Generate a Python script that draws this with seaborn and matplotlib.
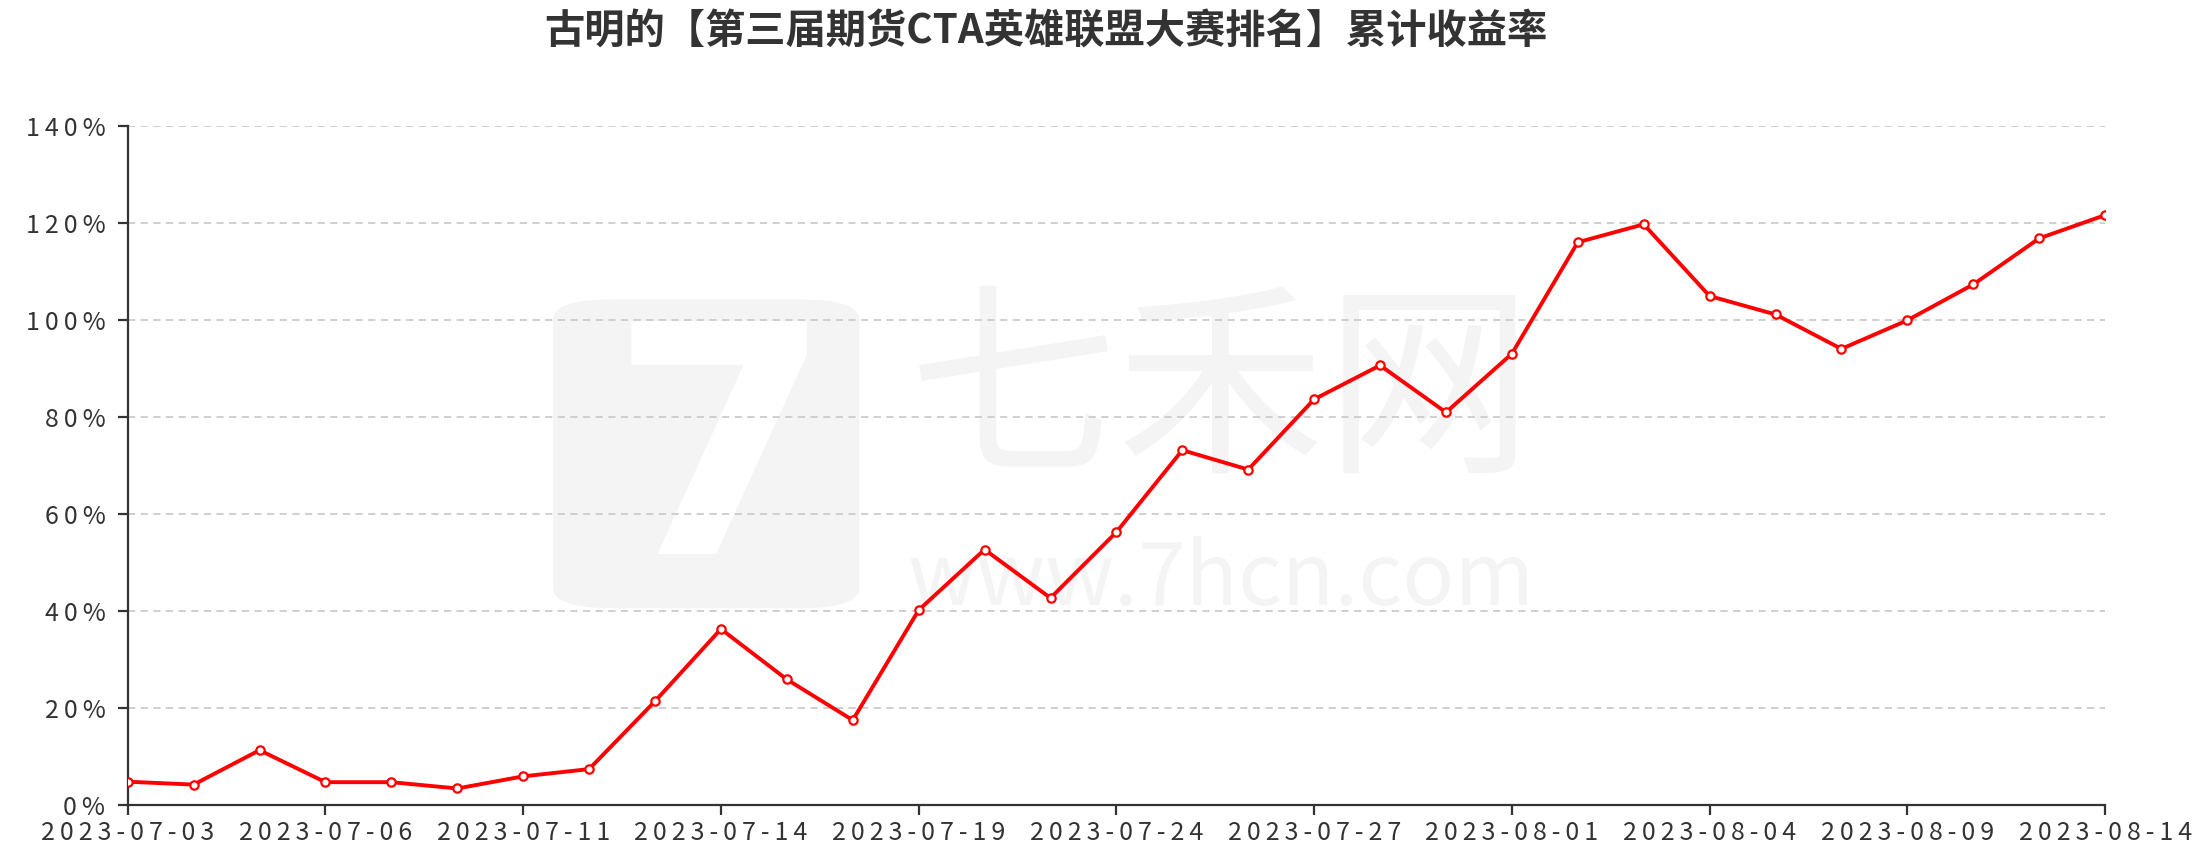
import matplotlib
matplotlib.use("Agg")
import matplotlib.pyplot as plt
from matplotlib.patches import FancyBboxPatch
import pandas as pd
import seaborn as sns

# trading days and cumulative return (%)
dates = ["2023-07-03", "2023-07-04", "2023-07-05", "2023-07-06", "2023-07-07",
         "2023-07-10", "2023-07-11", "2023-07-12", "2023-07-13", "2023-07-14",
         "2023-07-17", "2023-07-18", "2023-07-19", "2023-07-20", "2023-07-21",
         "2023-07-24", "2023-07-25", "2023-07-26", "2023-07-27", "2023-07-28",
         "2023-07-31", "2023-08-01", "2023-08-02", "2023-08-03", "2023-08-04",
         "2023-08-07", "2023-08-08", "2023-08-09", "2023-08-10", "2023-08-11",
         "2023-08-14"]
returns = [4.8, 4.2, 11.3, 4.7, 4.7, 3.4, 5.9, 7.4, 21.4, 36.3,
           25.9, 17.5, 40.2, 52.7, 42.7, 56.3, 73.2, 69.2, 83.7, 90.7,
           81.0, 93.1, 116.1, 119.8, 105.0, 101.2, 94.1, 100.0, 107.4, 116.9,
           121.7]
y_ticks = [0, 20, 40, 60, 80, 100, 120, 140]
title = "古明的【第三届期货CTA英雄联盟大赛排名】累计收益率"

THIN = "\u2009"


def spaced(s):
    return THIN.join(s)


df = pd.DataFrame({"pos": range(len(dates)), "date": dates, "ret": returns})

sns.set_theme(style="white")
plt.rcParams["font.family"] = ["Noto Sans CJK SC", "DejaVu Sans"]

fig = plt.figure(figsize=(22.02, 8.6), dpi=100)
ax = fig.add_axes([0.058, 0.064, 0.898, 0.789])
ax.set_facecolor("none")

# watermark
wm = "#f4f4f4"
ax.add_patch(FancyBboxPatch((0.215, 0.29), 0.155, 0.455, transform=ax.transAxes,
                            boxstyle="round,pad=0,rounding_size=0.03",
                            facecolor=wm, edgecolor="none", zorder=0.1))
ax.text(0.30, 0.50, "7", transform=ax.transAxes, fontsize=230, fontweight="bold",
        color="white", ha="center", va="center", zorder=0.2, family="DejaVu Sans")
ax.text(0.553, 0.60, "七禾网", transform=ax.transAxes, fontsize=150,
        color=wm, ha="center", va="center", zorder=0.1)
ax.text(0.553, 0.33, "www.7hcn.com", transform=ax.transAxes, fontsize=62,
        color=wm, ha="center", va="center", zorder=0.1)

sns.lineplot(data=df, x="pos", y="ret", ax=ax, color="#ff0000", linewidth=2.8,
             marker="o", markersize=6, markerfacecolor="white",
             markeredgecolor="#ff0000", markeredgewidth=1.6, zorder=3)

ax.set_xlim(0, len(dates) - 1)
ax.set_ylim(0, 140)
ax.set_xticks(df["pos"][::3])
ax.set_xticklabels([spaced(d) for d in df["date"][::3]])
ax.set_yticks(y_ticks)
ax.set_yticklabels([spaced(f"{v}%") for v in y_ticks])

ax.yaxis.grid(True, linestyle=(0, (4, 3)), color="#cccccc", linewidth=1.3)
ax.set_axisbelow(True)
for side in ["top", "right"]:
    ax.spines[side].set_visible(False)
for side in ["left", "bottom"]:
    ax.spines[side].set_color("#333333")
    ax.spines[side].set_linewidth(1.6)

ax.tick_params(axis="x", length=7, width=1.6, color="#333333", pad=4,
               labelsize=18, labelcolor="#333333", bottom=True)
ax.tick_params(axis="y", length=7, width=1.6, color="#333333", pad=9,
               labelsize=18, labelcolor="#333333", left=True)
ax.set_xlabel("")
ax.set_ylabel("")

fig.text(0.475, 0.963, title, ha="center", va="center", fontsize=29,
         fontweight="heavy", color="#333333")

fig.savefig("out.png", dpi=100, facecolor="white")
